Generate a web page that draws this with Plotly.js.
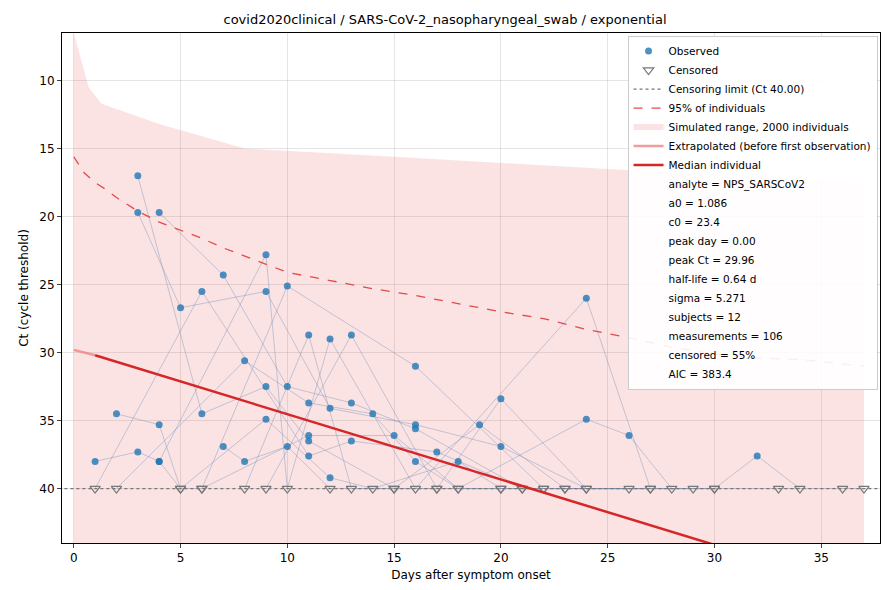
<!DOCTYPE html>
<html><head><meta charset="utf-8">
<script src="https://cdn.plot.ly/plotly-3.0.1.min.js"></script>
<style>body{margin:0;background:#fff}#chart{width:890px;height:590px}</style>
</head><body><div id="chart"></div>
<script>
// subjects: [day, ct, censored]
const SUBJECTS = [
  [[1,38,0],[3,37.3,0],[4,38,0],[5,40,1],[9,34.9,0],[12,39.2,0],[14,40,1],[18,38,0],[20,40,1]],
  [[1,40,1],[6,25.5,0],[11,37.6,0],[13,36.5,0],[17,37.3,0],[21,40,1]],
  [[2,34.5,0],[4,35.3,0],[5,40,1],[6,40,1],[11,36.1,0],[15,36.1,0],[18,40,1],[22,40,1]],
  [[3,17.0,0],[6,34.5,0],[9,32.5,0],[11,36.5,0],[15,40,1],[19,35.3,0],[23,40,1]],
  [[3,19.7,0],[5,26.7,0],[9,25.5,0],[12,34.1,0],[16,35.3,0],[20,36.9,0],[24,40,1],[27,40,1]],
  [[4,19.7,0],[7,24.3,0],[10,32.5,0],[13,33.7,0],[16,35.6,0],[21,40,1],[26,40,1]],
  [[2,40,1],[8,30.6,0],[11,33.7,0],[14,34.5,0],[16,38,0],[18,40,1],[24,34.9,0],[26,36.1,0],[28,40,1]],
  [[4,38,0],[9,22.8,0],[10,40,1],[12,29.0,0],[16,40,1],[24,26.0,0],[27,40,1]],
  [[6,40,1],[10,25.1,0],[16,31.0,0],[22,40,1],[30,40,1]],
  [[8,40,1],[11,28.7,0],[13,40,1],[17,40,1],[20,33.4,0],[24,40,1],[29,40,1]],
  [[9,40,1],[13,28.7,0],[17,40,1],[20,40,1],[30,40,1],[32,37.6,0],[34,40,1]],
  [[7,36.9,0],[8,38,0],[10,36.9,0],[12,40,1],[15,40,1],[23,40,1],[33,40,1],[36,40,1],[37,40,1]]
];
const bandDays = [0, 0.7, 1.3, 4, 8, 15, 25, 37];
const bandUpper = [6.5, 10.5, 11.7, 13.2, 15.0, 15.6, 16.5, 17.5];
const p95Days = [0,0.5,1,1.5,2,3,4,5,6,7,8,9,10,12,14,16,18,20,22,24,26,28,30,32,34,37];
const p95Ct = [15.6,16.8,17.5,18.0,18.6,19.6,20.4,21.0,21.6,22.3,22.9,23.5,24.1,24.7,25.3,25.8,26.4,27.0,27.5,28.3,28.9,29.6,30.1,30.4,30.5,31.0];
const extrapDays = [0, 1], extrapCt = [29.8, 30.2];
const medianDays = [1, 37], medianCt = [30.2, 47.5];
const statLines = ['analyte = NPS_SARSCoV2','a0 = 1.086','c0 = 23.4','peak day = 0.00','peak Ct = 29.96',
  'half-life = 0.64 d','sigma = 5.271','subjects = 12','measurements = 106','censored = 55%','AIC = 383.4'];

const traces = [];
traces.push({x: bandDays.concat([37, 0]), y: bandUpper.concat([45, 45]), fill: 'toself', mode: 'none',
  fillcolor: 'rgba(230,90,90,0.17)', name: 'Simulated range, 2000 individuals', legendrank: 5});
SUBJECTS.forEach(s => traces.push({x: s.map(p => p[0]), y: s.map(p => p[1]), mode: 'lines',
  line: {color: 'rgba(110,140,185,0.4)', width: 1}, showlegend: false, hoverinfo: 'none'}));
const obs = SUBJECTS.flat().filter(p => !p[2]), cen = SUBJECTS.flat().filter(p => p[2]);
traces.push({x: obs.map(p => p[0]), y: obs.map(p => p[1]), mode: 'markers', name: 'Observed', legendrank: 1,
  marker: {color: 'rgba(31,119,180,0.8)', size: 7}});
traces.push({x: cen.map(p => p[0]), y: cen.map(p => p[1]), mode: 'markers', name: 'Censored', legendrank: 2,
  marker: {symbol: 'triangle-down-open', color: '#777', size: 9, line: {width: 1.2}}});
traces.push({x: [-1, 38], y: [40, 40], mode: 'lines', name: 'Censoring limit (Ct 40.00)', legendrank: 3,
  line: {color: '#777', width: 1.3, dash: 'dot'}});
traces.push({x: p95Days, y: p95Ct, mode: 'lines', name: '95% of individuals', legendrank: 4,
  line: {color: '#e34a4a', width: 1.3, dash: 'dash'}});
traces.push({x: extrapDays, y: extrapCt, mode: 'lines', name: 'Extrapolated (before first observation)', legendrank: 6,
  line: {color: 'rgba(240,130,130,0.8)', width: 2.5}});
traces.push({x: medianDays, y: medianCt, mode: 'lines', name: 'Median individual', legendrank: 7,
  line: {color: '#d62728', width: 2.5}});
statLines.forEach((t, i) => traces.push({x: [null], y: [null], mode: 'lines', name: t, legendrank: 8 + i,
  line: {width: 0, color: 'rgba(0,0,0,0)'}}));

const ax = {showgrid: true, gridcolor: 'rgba(0,0,0,0.1)', zeroline: false, showline: true, mirror: true,
  linecolor: '#000', linewidth: 1, ticks: 'outside', ticklen: 4, tickfont: {size: 12, color: '#000'}};
Plotly.newPlot('chart', traces, {
  width: 890, height: 590, paper_bgcolor: '#fff', plot_bgcolor: '#fff',
  font: {family: 'DejaVu Sans, sans-serif', color: '#000'},
  margin: {l: 62, r: 10, t: 33, b: 47},
  title: {text: 'covid2020clinical / SARS-CoV-2_nasopharyngeal_swab / exponential', font: {size: 13}, y: 0.975},
  xaxis: Object.assign({}, ax, {range: [-0.55, 37.75], dtick: 5,
    title: {text: 'Days after symptom onset', font: {size: 12}, standoff: 6}}),
  yaxis: Object.assign({}, ax, {range: [44, 6.5], tickvals: [10, 15, 20, 25, 30, 35, 40],
    title: {text: 'Ct (cycle threshold)', font: {size: 12}, standoff: 8}}),
  legend: {x: 0.997, y: 0.995, xanchor: 'right', yanchor: 'top', bgcolor: 'rgba(255,255,255,0.9)',
    bordercolor: '#ccc', borderwidth: 1, font: {size: 10.5}, tracegroupgap: 0, itemwidth: 30, traceorder: 'normal'},
  showlegend: true
}, {displayModeBar: false, staticPlot: true});
</script></body></html>
